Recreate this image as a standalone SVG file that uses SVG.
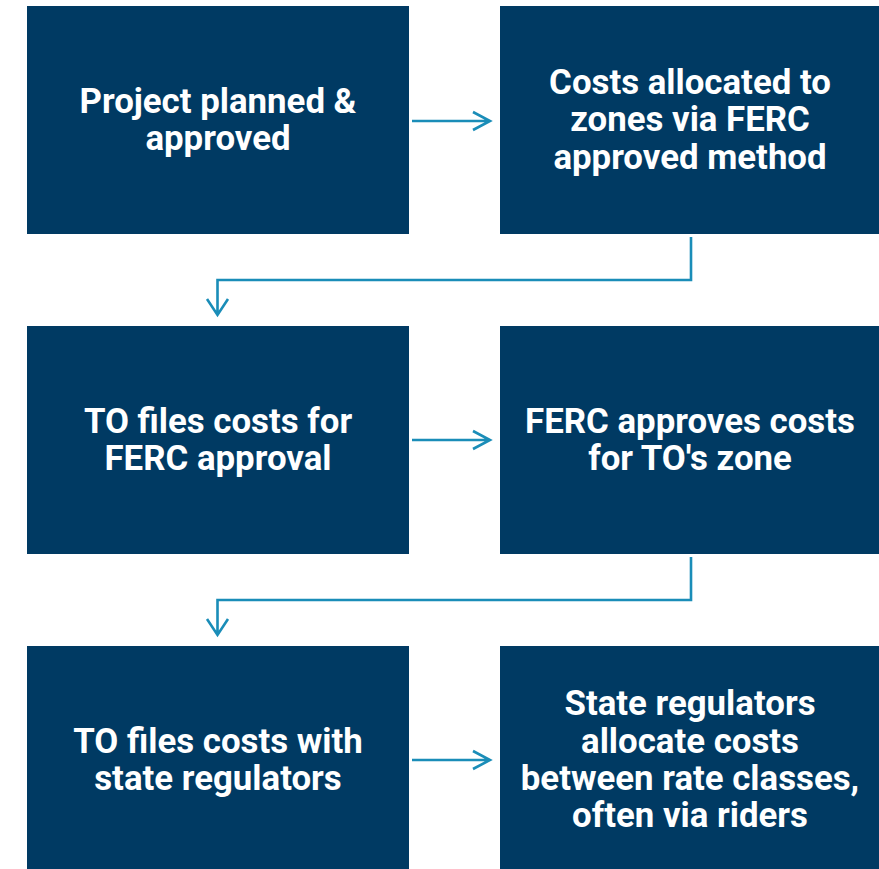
<svg xmlns="http://www.w3.org/2000/svg" width="879" height="869" viewBox="0 0 879 869">
<style>
.box{fill:#003a63}
.t{font-family:Roboto,"Liberation Sans",sans-serif;font-weight:bold;font-size:34.8px;fill:#ffffff;text-anchor:middle}
.c{fill:none;stroke:#1a8db8;stroke-width:2.6}
</style>
<rect width="879" height="869" fill="#ffffff"/>
<g id="n1"><rect class="box" x="27" y="6" width="382" height="228"/>
<text class="t" x="218" y="113">Project planned &amp;</text>
<text class="t" x="218" y="150">approved</text></g>
<g id="n2"><rect class="box" x="500" y="6" width="379" height="228"/>
<text class="t" x="690" y="93.5">Costs allocated to</text>
<text class="t" x="690" y="131">zones via FERC</text>
<text class="t" x="690" y="168.5">approved method</text></g>
<g id="n3"><rect class="box" x="27" y="326" width="382" height="228"/>
<text class="t" x="218" y="432.5">TO files costs for</text>
<text class="t" x="218" y="469.5">FERC approval</text></g>
<g id="n4"><rect class="box" x="500" y="326" width="379" height="228"/>
<text class="t" x="690" y="432.5">FERC approves costs</text>
<text class="t" x="690" y="469.5">for TO's zone</text></g>
<g id="n5"><rect class="box" x="27" y="646" width="382" height="223"/>
<text class="t" x="218" y="752.5">TO files costs with</text>
<text class="t" x="218" y="789.5">state regulators</text></g>
<g id="n6"><rect class="box" x="500" y="646" width="379" height="223"/>
<text class="t" x="690" y="714.5">State regulators</text>
<text class="t" x="690" y="752.5">allocate costs</text>
<text class="t" x="690" y="789.5">between rate classes,</text>
<text class="t" x="690" y="826.5">often via riders</text></g>
<g id="connectors">
<path class="c" d="M412 121H490M473 112L490 121L473 130"/>
<path class="c" d="M691 237V280H217.5V315M207 299L217.5 315L228 299"/>
<path class="c" d="M412 440H490M473 431L490 440L473 449"/>
<path class="c" d="M691 557V600H217.5V635M207 619L217.5 635L228 619"/>
<path class="c" d="M412 760H490M473 751L490 760L473 769"/>
</g>
</svg>
